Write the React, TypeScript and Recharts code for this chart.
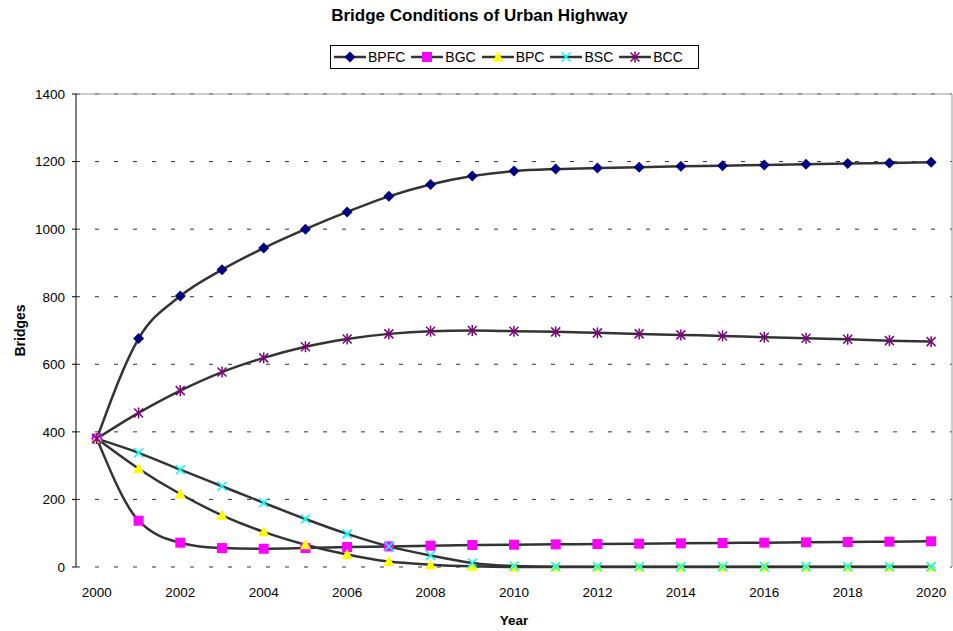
import {
  CartesianGrid,
  Legend,
  Line,
  LineChart,
  ReferenceLine,
  XAxis,
  YAxis,
} from "recharts";

const years = [
  2000, 2001, 2002, 2003, 2004, 2005, 2006, 2007, 2008, 2009, 2010,
  2011, 2012, 2013, 2014, 2015, 2016, 2017, 2018, 2019, 2020,
];
const bpfc = [
  380, 676, 802, 880, 944, 1000, 1051, 1097, 1132, 1157, 1172,
  1178, 1181, 1183, 1186, 1188, 1190, 1192, 1194, 1196, 1198,
];
const bgc = [
  380, 137, 72, 56, 54, 56, 59, 61, 63, 65, 66,
  67, 68, 69, 70, 71, 72, 73, 74, 75, 76,
];
const bpc = [
  380, 291, 216, 153, 104, 66, 37, 16, 7, 2, 0,
  0, 0, 0, 0, 0, 0, 0, 0, 0, 0,
];
const bsc = [
  380, 338, 288, 239, 190, 142, 98, 61, 34, 12, 3,
  1, 1, 1, 1, 1, 1, 1, 1, 1, 1,
];
const bcc = [
  380, 456, 522, 577, 619, 652, 675, 690, 698, 700, 698,
  696, 693, 690, 687, 684, 680, 677, 674, 670, 667,
];

const yTicks = [0, 200, 400, 600, 800, 1000, 1200, 1400];
const yearLabels = [2000, 2002, 2004, 2006, 2008, 2010, 2012, 2014, 2016, 2018, 2020];

const rows = years.map((year, i) => ({
  year,
  BPFC: bpfc[i],
  BGC: bgc[i],
  BPC: bpc[i],
  BSC: bsc[i],
  BCC: bcc[i],
}));

// category boundaries, where the small tick marks sit
const boundaries = [...years.map((y) => y - 0.5), years[years.length - 1] + 0.5];
const xDomain = [years[0] - 0.5, years[years.length - 1] + 0.5];

const FONT = "Arial, 'Liberation Sans', sans-serif";
const LINE = "#333333";

type MarkerKind = "diamond" | "square" | "triangle" | "cross" | "star";

function Marker({ kind, cx, cy, color }: { kind: MarkerKind; cx: number; cy: number; color: string }) {
  const r = 5;
  switch (kind) {
    case "diamond":
      return <path d={`M${cx},${cy - r - 0.5}L${cx + r + 0.5},${cy}L${cx},${cy + r + 0.5}L${cx - r - 0.5},${cy}Z`} fill={color} />;
    case "square":
      return <rect x={cx - r} y={cy - r} width={2 * r} height={2 * r} fill={color} />;
    case "triangle":
      return <path d={`M${cx},${cy - r - 0.5}L${cx + r + 0.5},${cy + r - 0.5}L${cx - r - 0.5},${cy + r - 0.5}Z`} fill={color} />;
    case "cross":
      return (
        <g stroke={color} strokeWidth={1.6}>
          <line x1={cx - 4.5} y1={cy - 4.5} x2={cx + 4.5} y2={cy + 4.5} />
          <line x1={cx - 4.5} y1={cy + 4.5} x2={cx + 4.5} y2={cy - 4.5} />
        </g>
      );
    case "star":
      return (
        <g stroke={color} strokeWidth={1.5}>
          <line x1={cx - 4.5} y1={cy - 4.5} x2={cx + 4.5} y2={cy + 4.5} />
          <line x1={cx - 4.5} y1={cy + 4.5} x2={cx + 4.5} y2={cy - 4.5} />
          <line x1={cx} y1={cy - 5.5} x2={cx} y2={cy + 5.5} />
        </g>
      );
  }
}

const series: { key: string; kind: MarkerKind; color: string }[] = [
  { key: "BPFC", kind: "diamond", color: "#000080" },
  { key: "BGC", kind: "square", color: "#FF00FF" },
  { key: "BPC", kind: "triangle", color: "#FFFF00" },
  { key: "BSC", kind: "cross", color: "#00FFFF" },
  { key: "BCC", kind: "star", color: "#800080" },
];

function LegendBox() {
  return (
    <div
      style={{
        boxSizing: "border-box",
        width: 369,
        height: 24,
        border: "1px solid #000",
        background: "#fff",
        display: "flex",
        alignItems: "center",
        paddingLeft: 3,
        fontFamily: FONT,
        fontSize: 14,
        color: "#000",
      }}
    >
      {series.map((s) => (
        <div key={s.key} style={{ display: "flex", alignItems: "center", marginRight: 6 }}>
          <svg width={32} height={14} style={{ display: "block" }}>
            <line x1={0} y1={7} x2={32} y2={7} stroke={LINE} strokeWidth={2.5} />
            <Marker kind={s.kind} cx={16} cy={7} color={s.color} />
          </svg>
          <span style={{ marginLeft: 2 }}>{s.key}</span>
        </div>
      ))}
    </div>
  );
}

export default function App() {
  return (
    <div style={{ position: "absolute", left: 0, top: 0, width: 953, height: 631, background: "#fff" }}>
      <div
        style={{
          position: "absolute",
          left: 3,
          top: 6,
          width: 953,
          textAlign: "center",
          fontFamily: FONT,
          fontSize: 17,
          fontWeight: "bold",
          color: "#000",
        }}
      >
        Bridge Conditions of Urban Highway
      </div>
      <LineChart
        width={953}
        height={631}
        data={rows}
        margin={{ top: 94, right: 1, bottom: 0, left: 0 }}
        style={{ fontFamily: FONT }}
      >
        <CartesianGrid vertical={false} stroke="#333" strokeDasharray="4 15" />
        <XAxis
          xAxisId="marks"
          type="number"
          dataKey="year"
          domain={xDomain}
          ticks={boundaries}
          tick={false}
          tickSize={4}
          tickLine={{ stroke: "#000" }}
          axisLine={{ stroke: "#000" }}
          height={0}
          allowDataOverflow
        />
        <XAxis
          type="number"
          dataKey="year"
          domain={xDomain}
          ticks={yearLabels}
          axisLine={false}
          tickLine={false}
          tickSize={0}
          tickMargin={20}
          height={64}
          tick={{ fill: "#000", fontSize: 13.5 }}
          allowDataOverflow
          label={{
            value: "Year",
            position: "insideBottom",
            offset: 6,
            style: { fontWeight: "bold", fontSize: 13.5, fill: "#000" },
          }}
        />
        <YAxis
          domain={[0, 1400]}
          ticks={yTicks}
          width={76}
          tickSize={4}
          tickMargin={7}
          tickLine={{ stroke: "#000" }}
          axisLine={{ stroke: "#000" }}
          tick={{ fill: "#000", fontSize: 13.5 }}
          label={{
            value: "Bridges",
            position: "center",
            angle: -90,
            dx: -18,
            style: { fontWeight: "bold", fontSize: 14, fill: "#000" },
          }}
        />
        <ReferenceLine y={1400} stroke="#999" strokeWidth={1} />
        <ReferenceLine x={xDomain[1]} stroke="#999" strokeWidth={1} />
        <Legend
          layout="horizontal"
          verticalAlign="middle"
          wrapperStyle={{ top: 45, left: 330, width: 369, height: 24 }}
          content={() => <LegendBox />}
        />
        {series.map((s) => (
          <Line
            key={s.key}
            type="monotone"
            dataKey={s.key}
            stroke={LINE}
            strokeWidth={2.5}
            isAnimationActive={false}
            dot={(p: any) => <Marker key={`${s.key}-${p.index}`} kind={s.kind} cx={p.cx} cy={p.cy} color={s.color} />}
            activeDot={false}
          />
        ))}
      </LineChart>
    </div>
  );
}
